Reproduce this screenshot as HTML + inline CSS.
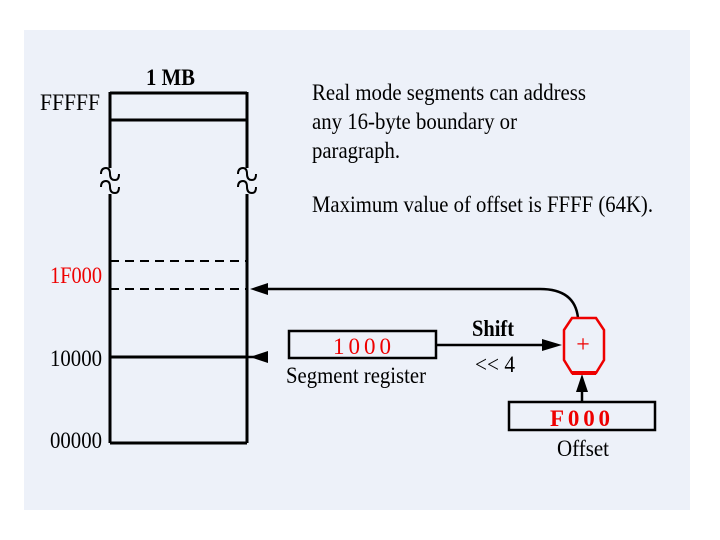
<!DOCTYPE html>
<html><head><style>body{margin:0;background:#fff}svg{display:block}</style></head><body>
<svg width="720" height="540" viewBox="0 0 720 540" xmlns="http://www.w3.org/2000/svg" font-family="Liberation Serif, serif">
<rect x="24" y="30" width="666" height="480" fill="#edf1f9"/>
<g stroke="#000" stroke-width="3" fill="none">
<line x1="110" y1="93" x2="247" y2="93"/>
<line x1="110" y1="120" x2="247" y2="120"/>
<line x1="110" y1="92" x2="110" y2="168"/>
<line x1="110" y1="194" x2="110" y2="443"/>
<line x1="247" y1="92" x2="247" y2="168"/>
<line x1="247" y1="194" x2="247" y2="443"/>
<line x1="110" y1="443" x2="247" y2="443"/>
<line x1="110" y1="357" x2="247" y2="357"/>
<line x1="110" y1="261" x2="247" y2="261" stroke-dasharray="9,6" stroke-width="2"/>
<line x1="110" y1="289" x2="247" y2="289" stroke-dasharray="9,6" stroke-width="2"/>
<path d="M262 289 L540 289 Q575 289 578 318" stroke-width="2.5"/>
<rect x="289" y="331" width="147" height="27" stroke-width="2.5"/>
<line x1="436" y1="345" x2="545" y2="345" stroke-width="2.5"/>
<rect x="509" y="402" width="146" height="28" stroke-width="2.5"/>
<line x1="582" y1="402" x2="582" y2="385" stroke-width="2.5"/>
<line x1="247" y1="357" x2="268" y2="357" stroke-width="2.5"/>
</g>
<g fill="none" stroke="#000" stroke-width="2">
<path d="M101 174 q0 -6 5 -6 q4 0 4 6 q0 6 5 6 q4 0 4 -6 M101 187 q0 -6 5 -6 q4 0 4 6 q0 6 5 6 q4 0 4 -6"/>
<path d="M238 174 q0 -6 5 -6 q4 0 4 6 q0 6 5 6 q4 0 4 -6 M238 187 q0 -6 5 -6 q4 0 4 6 q0 6 5 6 q4 0 4 -6"/>
</g>
<g fill="#000">
<polygon points="250,289 268,283 268,295"/>
<polygon points="250,357 268,351 268,363"/>
<polygon points="562,345 542,339 542,351"/>
<polygon points="582,374 576,392 588,392"/>
</g>
<polygon points="572,318 596,318 604,330 604,360 596,373 572,373 564,360 564,330" fill="none" stroke="#e00" stroke-width="2.5"/>
<line x1="572" y1="373" x2="596" y2="373" stroke="#e00" stroke-width="4"/>
<text x="583" y="352" fill="#e00" font-size="24" text-anchor="middle">+</text>
<g font-size="23" fill="#000">
<text x="40" y="110" textLength="60" lengthAdjust="spacingAndGlyphs">FFFFF</text>
<text x="146" y="85" font-weight="bold" textLength="49" lengthAdjust="spacingAndGlyphs">1 MB</text>
<text x="50" y="283" fill="#e00" textLength="52" lengthAdjust="spacingAndGlyphs">1F000</text>
<text x="50" y="366" textLength="52" lengthAdjust="spacingAndGlyphs">10000</text>
<text x="50" y="448" textLength="52" lengthAdjust="spacingAndGlyphs">00000</text>
<text x="312" y="100" textLength="274" lengthAdjust="spacingAndGlyphs">Real mode segments can address</text>
<text x="312" y="129" textLength="205" lengthAdjust="spacingAndGlyphs">any 16-byte boundary or</text>
<text x="312" y="158" textLength="88" lengthAdjust="spacingAndGlyphs">paragraph.</text>
<text x="312" y="212" textLength="341" lengthAdjust="spacingAndGlyphs">Maximum value of offset is FFFF (64K).</text>
<text x="333" y="354" fill="#e00" textLength="58" lengthAdjust="spacing">1000</text>
<text x="286" y="383" textLength="140" lengthAdjust="spacingAndGlyphs">Segment register</text>
<text x="472" y="336" font-weight="bold" textLength="42" lengthAdjust="spacingAndGlyphs">Shift</text>
<text x="475" y="372" textLength="40" lengthAdjust="spacingAndGlyphs">&lt;&lt; 4</text>
<text x="550" y="426" fill="#e00" font-weight="bold" textLength="60" lengthAdjust="spacing">F000</text>
<text x="557" y="456" textLength="52" lengthAdjust="spacingAndGlyphs">Offset</text>
</g>
</svg>
</body></html>
